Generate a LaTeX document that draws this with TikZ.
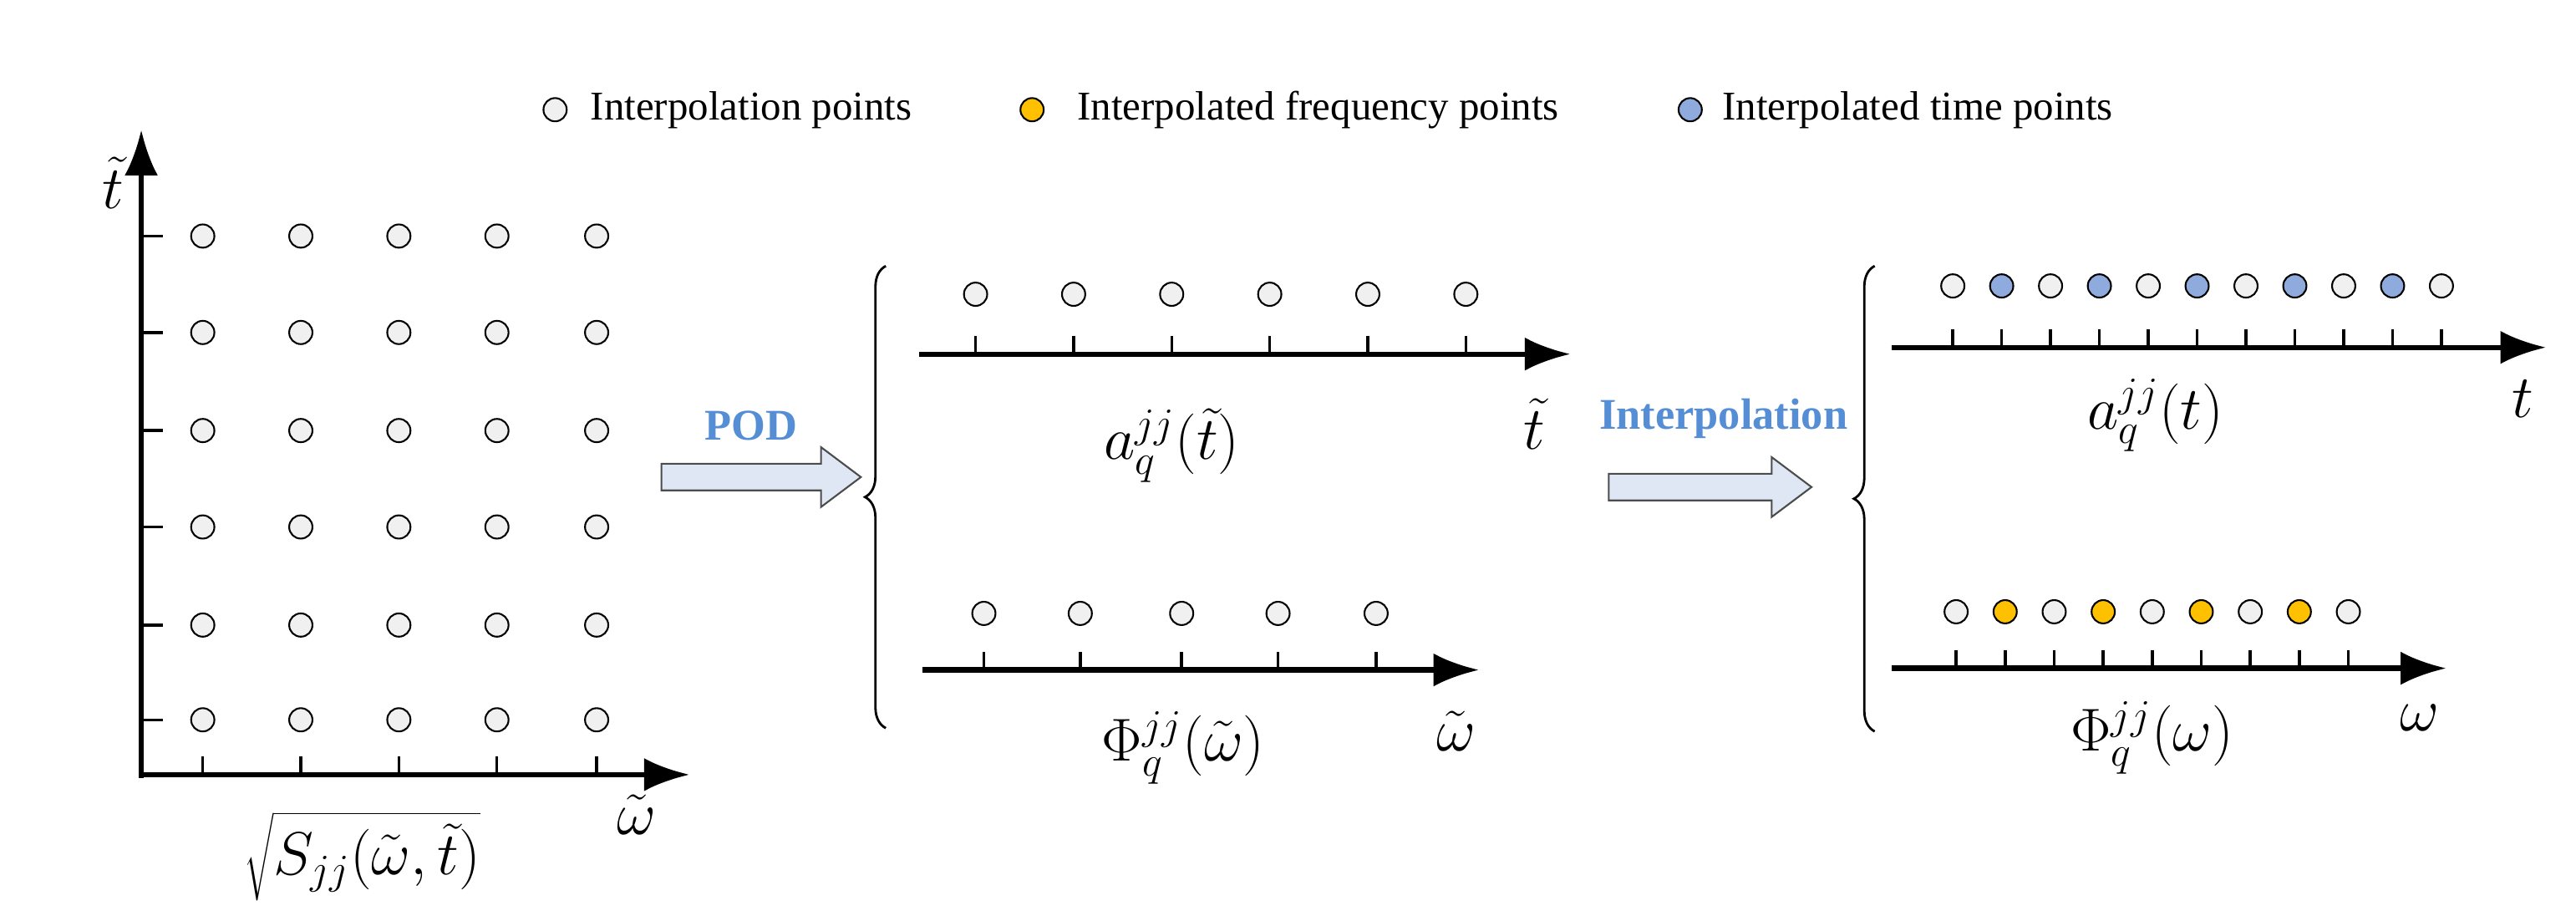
\documentclass[tikz,border=0pt]{standalone}
\usepackage{fontspec}
\setmainfont{Liberation Serif}
\usetikzlibrary{arrows.meta,decorations.pathreplacing}
\definecolor{ptgray}{RGB}{240,240,240}
\definecolor{ptorange}{RGB}{255,192,0}
\definecolor{ptblue}{RGB}{143,170,220}
\definecolor{lblblue}{RGB}{85,142,213}
\definecolor{arrfill}{RGB}{222,231,243}
\begin{document}
\begin{tikzpicture}[x=0.02cm,y=-0.02cm,
  pt/.style={circle,draw=black,line width=0.6pt,fill=ptgray,inner sep=0pt,minimum size=0.28cm},
  po/.style={pt,fill=ptorange},
  pb/.style={pt,fill=ptblue},
  ax/.style={line width=1.8pt,-{Latex[length=0.55cm,width=0.4cm]}},
  tk/.style={line width=1pt},
  leg/.style={font=\fontsize{14}{16}\selectfont,anchor=west,inner sep=0pt},
  ml/.style={font=\fontsize{21}{24}\selectfont,inner sep=0pt},
  big/.style={draw=black!70,fill=arrfill,line width=0.6pt},
  op/.style={font=\fontsize{15}{17}\selectfont\bfseries,text=lblblue},
  br/.style={decorate,decoration={brace,amplitude=0.25cm},line width=0.8pt}]
\useasboundingbox (0,0) rectangle (1550,554);
% legend
\node[pt] (l1) at (334,66) {}; \node[leg] (t1) at (355,66) {Interpolation points};
\node[po] (l2) at (621,66) {}; \node[leg] (t2) at (648,66) {Interpolated frequency points};
\node[pb] (l3) at (1017,66) {}; \node[leg] (t3) at (1036,66) {Interpolated time points};
% left grid
\coordinate (o) at (85,466);
\coordinate (ytop) at (85,78);
\coordinate (xr) at (415,466);
\draw[ax] (85,468) -- (ytop);
\draw[ax] (o) -- (xr);
\foreach \y in {142,200,259,317,376,433} \draw[tk] (85,\y) -- (98,\y);
\foreach \x in {122,181,240,299,359} {
  \draw[tk] (\x,466) -- (\x,455);
  \foreach \y in {142,200,259,317,376,433} \node[pt] at (\x,\y) {};
}
\node[ml] (tl) at (68,110) {$\tilde t$};
\node[ml] (wl) at (383,490) {$\tilde\omega$};
\node[ml] (sl) at (218,515) {$\sqrt{S_{jj}(\tilde\omega,\tilde t)}$};
% POD arrow
\draw[big] (398,279) -- (494,279) -- (494,269) -- (518,287) -- (494,305) -- (494,295) -- (398,295) -- cycle;
\node[op] (podl) at (452,256) {POD};
\draw[br] (533,438) -- (533,160);
% middle top
\draw[ax] (553,213) -- (945,213);
\foreach \x in {587,646,705,764,823,882} {\draw[tk] (\x,213) -- (\x,202); \node[pt] at (\x,177) {};}
\node[ml] (a1) at (705,268) {$a_q^{jj}(\tilde t)$};
\node[ml] (t2l) at (923,255) {$\tilde t$};
% middle bottom
\draw[ax] (555,403) -- (890,403);
\foreach \x in {592,650,711,769,828} {\draw[tk] (\x,403) -- (\x,392); \node[pt] at (\x,369) {};}
\node[ml] (p1) at (712,450) {$\Phi_q^{jj}(\tilde\omega)$};
\node[ml] (w2l) at (876,440) {$\tilde\omega$};
% interpolation arrow
\draw[big] (968,285) -- (1066,285) -- (1066,275) -- (1090,293) -- (1066,311) -- (1066,301) -- (968,301) -- cycle;
\node[op] (ial) at (1037,252) {Interpolation};
\draw[br] (1128,440) -- (1128,160);
% right top
\draw[ax] (1138,209) -- (1532,209);
\foreach \i in {0,...,10} {
  \pgfmathsetmacro{\x}{1175+29.4*\i}
  \draw[tk] (\x,209) -- (\x,198);
  \ifodd\i \node[pb] at (\x,172) {}; \else \node[pt] at (\x,172) {}; \fi
}
\node[ml] (a2) at (1297,250) {$a_q^{jj}(t)$};
\node[ml] (t3l) at (1518,240) {$t$};
% right bottom
\draw[ax] (1138,402) -- (1472,402);
\foreach \i in {0,...,8} {
  \pgfmathsetmacro{\x}{1177+29.5*\i}
  \draw[tk] (\x,402) -- (\x,391);
  \ifodd\i \node[po] at (\x,368) {}; \else \node[pt] at (\x,368) {}; \fi
}
\node[ml] (p2) at (1295,444) {$\Phi_q^{jj}(\omega)$};
\node[ml] (w3l) at (1456,432) {$\omega$};
\end{tikzpicture}
\end{document}
